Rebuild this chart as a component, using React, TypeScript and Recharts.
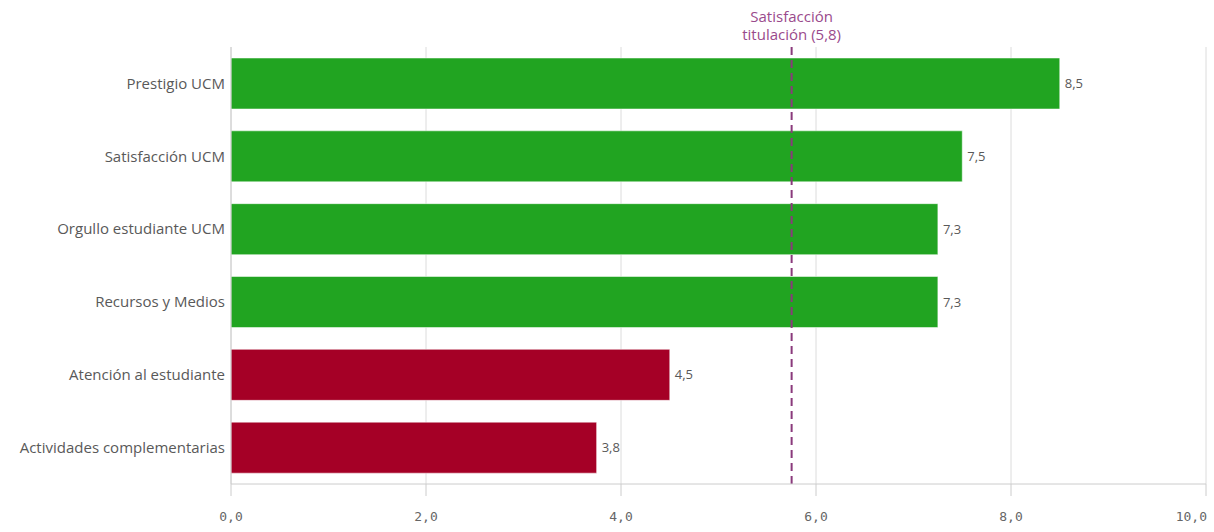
import React from 'react';
import { BarChart, Bar, CartesianGrid, XAxis, YAxis, ReferenceLine, LabelList, Cell } from 'recharts';

const categories = [
  'Prestigio UCM',
  'Satisfacción UCM',
  'Orgullo estudiante UCM',
  'Recursos y Medios',
  'Atención al estudiante',
  'Actividades complementarias',
];
const scores = [8.5, 7.5, 7.25, 7.25, 4.5, 3.75];
const barColours = ['#21a421', '#21a421', '#21a421', '#21a421', '#a50026', '#a50026'];
const xTicks = [0, 2, 4, 6, 8, 10];
const refValue = 5.75;
const refLines = ['Satisfacción', 'titulación'];

const data = categories.map((name, i) => ({ name, score: scores[i] }));

const fmt = (v: number) => v.toFixed(1).replace('.', ',');
const labelFont = '"Open Sans", sans-serif';

const XTick = (props: any) => {
  const { x, y, payload } = props;
  const last = payload.value === 10;
  return (
    <text
      x={last ? x + 1 : x}
      y={y + 23}
      textAnchor={last ? 'end' : 'middle'}
      fill="#666"
      fontSize={13}
      fontFamily='"DejaVu Sans Mono", monospace'
    >
      {fmt(payload.value)}
    </text>
  );
};

const RefLabel = (props: any) => {
  const { viewBox } = props;
  const cx = viewBox.x;
  return (
    <text textAnchor="middle" fill="#9a4a8c" fontSize={15} fontFamily={labelFont}>
      <tspan x={cx} y={22}>{refLines[0]}</tspan>
      <tspan x={cx} y={40}>{`${refLines[1]} (${fmt(refValue)})`}</tspan>
    </text>
  );
};

export default function App() {
  return (
    <div style={{ position: 'absolute', left: 0, top: 0, background: '#fff' }}>
      <BarChart
        width={1214}
        height={532}
        data={data}
        layout="vertical"
        margin={{ top: 47, right: 8, bottom: 8, left: 0 }}
      >
        <CartesianGrid horizontal={false} stroke="#dcdcdc" />
        <XAxis
          type="number"
          domain={[0, 10]}
          ticks={xTicks}
          height={40}
          stroke="#cccccc"
          tickSize={12}
          tick={<XTick />}
        />
        <YAxis
          type="category"
          dataKey="name"
          width={231}
          stroke="#cccccc"
          tickLine={false}
          tickSize={0}
          tickMargin={6}
          tick={{ fill: '#595959', fontSize: 15, fontFamily: labelFont }}
        />
        <Bar dataKey="score" barSize={51} isAnimationActive={false}>
          {data.map((d, i) => (
            <Cell key={d.name} fill={barColours[i]} stroke="rgba(255,255,255,0.5)" />
          ))}
          <LabelList
            dataKey="score"
            position="right"
            offset={5}
            formatter={(v: any) => fmt(Number(v))}
            style={{ fill: '#595959', fontSize: 13, fontFamily: labelFont }}
          />
        </Bar>
        <ReferenceLine
          x={refValue}
          stroke="#8a3a7c"
          strokeWidth={2}
          strokeDasharray="8 5"
          label={<RefLabel />}
        />
      </BarChart>
    </div>
  );
}
